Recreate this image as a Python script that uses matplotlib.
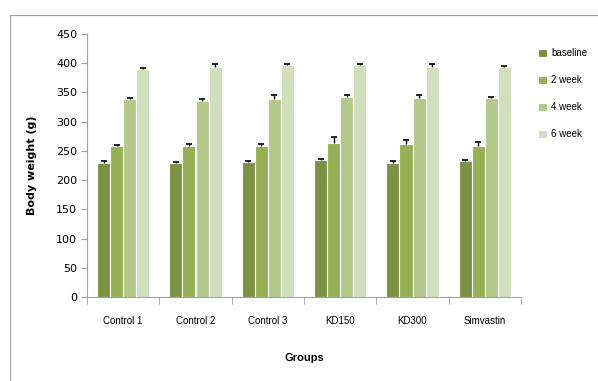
import numpy as np
import matplotlib
matplotlib.use("Agg")
import matplotlib.pyplot as plt
from matplotlib.patches import Rectangle

groups = ["Control 1", "Control 2", "Control 3", "KD150", "KD300", "Simvastin"]
series = ["baseline", "2 week", "4 week", "6 week"]
baseline = [230, 229, 231, 234, 230, 232]
week2 = [258, 258, 258, 263, 261, 259]
week4 = [338, 336, 339, 342, 341, 341]
week6 = [390, 394, 397, 397, 394, 394]
err_baseline = [2, 2, 2, 2, 2, 2]
err_week2 = [2, 3, 3, 10, 7, 7]
err_week4 = [2, 2, 6, 4, 4, 2]
err_week6 = [2, 5, 2, 2, 4, 2]
colors = ["#7b9244", "#95b055", "#b2c98a", "#d0dfbc"]

values = [baseline, week2, week4, week6]
errors = [err_baseline, err_week2, err_week4, err_week6]

fig = plt.figure(figsize=(5.98, 3.81), dpi=100)
fig.patches.append(Rectangle((10 / 598, -0.1), 1.2, 1 - 15 / 381 + 0.1,
                             transform=fig.transFigure, fill=False,
                             edgecolor="#a0a0a0", linewidth=0.8))
ax = fig.add_axes([87 / 598, 1 - 297 / 381, (521 - 87) / 598, (297 - 34) / 381])

x = np.arange(len(groups))
w = 0.18
for i, (vals, errs) in enumerate(zip(values, errors)):
    pos = x + (i - 1.5) * w
    ax.bar(pos, vals, width=w, color=colors[i], edgecolor="white", linewidth=0.8,
           label=series[i], zorder=2)
    _, caps, _ = ax.errorbar(pos, vals, yerr=[np.zeros(len(errs)), errs], fmt="none",
                             ecolor="black", elinewidth=1, capsize=2.5,
                             capthick=1.2, zorder=3)
    caps[0].set_visible(False)

ax.set_xlim(-0.5, len(groups) - 0.5)
ax.set_ylim(0, 450)
ax.set_yticks(range(0, 451, 50))
ax.set_xticks(x)
ax.set_xticklabels(groups, fontsize=7, family="Liberation Sans")
ax.set_xticks(np.arange(-0.5, len(groups), 1), minor=True)
ax.tick_params(axis="x", which="major", length=0, pad=14)
ax.tick_params(axis="x", which="minor", length=5, color="#a0a0a0")
ax.tick_params(axis="y", length=4, color="#a0a0a0", labelsize=8, pad=3)
for s in ["top", "right"]:
    ax.spines[s].set_visible(False)
for s in ["left", "bottom"]:
    ax.spines[s].set_color("#a0a0a0")
ax.set_ylabel("Body weight (g)", fontsize=8, fontweight="bold", labelpad=14)
ax.set_xlabel("Groups", fontsize=8, fontweight="bold", labelpad=19,
              family="Liberation Sans")

leg = ax.legend(loc="upper left", bbox_to_anchor=(1.02, 0.98), frameon=False,
                prop={"family": "Liberation Sans", "size": 7},
                handlelength=0.9, handleheight=0.9, labelspacing=1.75,
                handletextpad=0.4)

fig.savefig("out.png", dpi=100)
